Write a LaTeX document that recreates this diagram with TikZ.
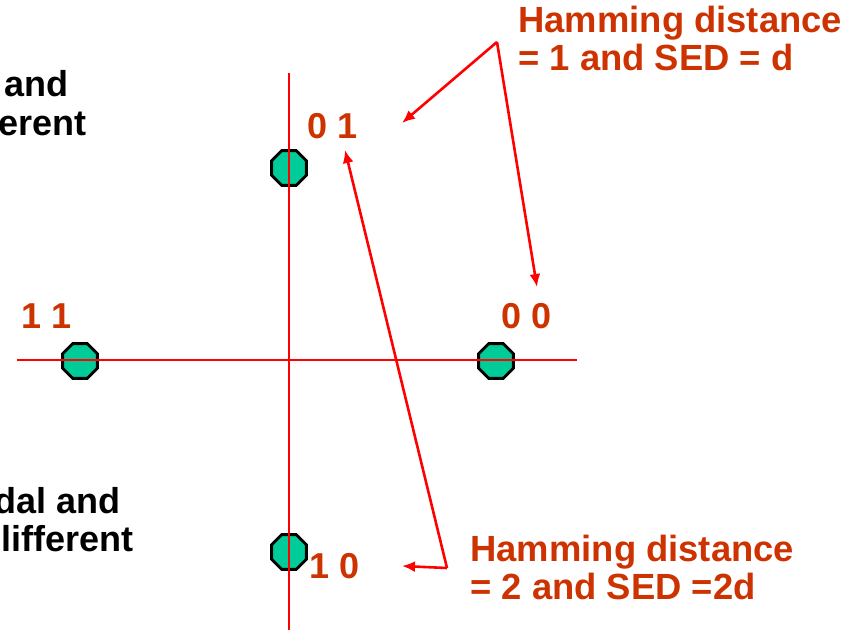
\documentclass[tikz,border=0pt]{standalone}
\usepackage{fontspec}
\setmainfont{Liberation Sans}
\usetikzlibrary{shapes.geometric,arrows.meta}
\definecolor{labelred}{RGB}{204,51,0}
\definecolor{pointgreen}{RGB}{0,204,153}

\begin{document}
\begin{tikzpicture}[x=0.5pt,y=-0.5pt,
  point/.style={regular polygon,regular polygon sides=8,draw=black,line width=1.4pt,
    fill=pointgreen,minimum size=18.8pt,inner sep=0pt},
  bitlabel/.style={text=labelred,font=\fontsize{18}{19}\selectfont\bfseries,inner sep=0pt},
  note/.style={text=labelred,font=\fontsize{18.2}{19}\selectfont\bfseries,align=left,
    inner sep=0pt,anchor=base west},
  side/.style={font=\fontsize{18}{19}\selectfont\bfseries,inner sep=0pt,anchor=base east},
  pointer/.style={red,line width=1.3pt,-{Latex[length=6.5pt,width=5.5pt]}}]
\useasboundingbox (0,0) rectangle (861,631);

% signal points
\node[point] (p01) at (289,168) {};
\node[point] (p11) at (80,361) {};
\node[point] (p00) at (496,361) {};
\node[point] (p10) at (289,552) {};

% axes
\draw[red,line width=1.3pt] (289,73) -- (289,630);
\draw[red,line width=1.3pt] (17,360) -- (577,360);

\node[bitlabel] (l01) at (333,126) {0 1};
\node[bitlabel] (l11) at (47,316) {1 1};
\node[bitlabel] (l00) at (527,316) {0 0};
\node[bitlabel] (l10) at (335,566) {1 0};

\node[note] (hd1) at (518,71) {Hamming distance\\= 1 and SED = d};
\node[note] (hd2) at (470,599) {Hamming distance\\= 2 and SED =2d};

\node[side] (s1) at (69,97) {and};
\node[side] (s2) at (87,135) {erent};
\node[side] (s3) at (121,513) {dal and};
\node[side] (s4) at (134,551) {lifferent};

% pointers
\coordinate (fork1) at (497,42);
\coordinate (tip01a) at (402,123);
\coordinate (tip00) at (537,287);
\draw[pointer] (fork1) -- (tip01a);
\draw[pointer] (fork1) -- (tip00);

\coordinate (fork2) at (447,568);
\coordinate (tip01b) at (345,150);
\coordinate (tip10) at (402,566);
\draw[pointer] (fork2) -- (tip01b);
\draw[pointer] (fork2) -- (tip10);

\end{tikzpicture}
\end{document}
